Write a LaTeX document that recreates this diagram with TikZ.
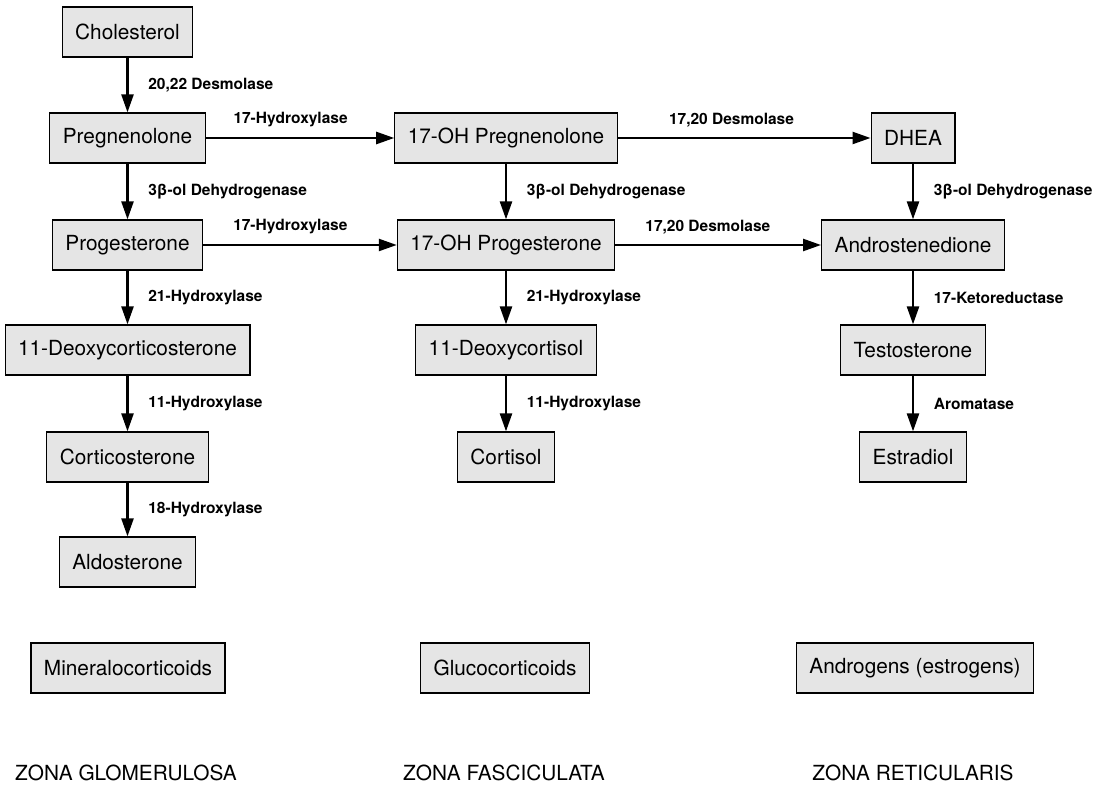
\documentclass[tikz,border=0pt]{standalone}
\usepackage{fontspec}
\setmainfont{TeX Gyre Heros}
\usetikzlibrary{arrows.meta}
\definecolor{boxgray}{gray}{0.9}

\begin{document}
\begin{tikzpicture}[x=0.5pt,y=0.5pt,
    hormone/.style={draw,line width=0.6pt,fill=boxgray,minimum height=25pt,inner xsep=6.5pt,font=\fontsize{10.4}{12}\selectfont},
    zone/.style={font=\fontsize{10.4}{12}\selectfont},
    enz/.style={font=\fontsize{7.75}{9}\selectfont\bfseries},
    conv/.style={line width=1.2pt,-{Triangle[length=9pt,width=6pt]}}]
    \useasboundingbox (0,0) rectangle (1103,-785);

    \node[hormone] (chol) at (127.5,-32) {Cholesterol};
    \node[hormone] (preg) at (127.5,-138) {Pregnenolone};
    \node[hormone] (prog) at (127.5,-245) {Progesterone};
    \node[hormone] (doc) at (127.5,-350) {11-Deoxycorticosterone};
    \node[hormone] (cort) at (127.5,-457) {Corticosterone};
    \node[hormone] (aldo) at (127.5,-562) {Aldosterone};

    \node[hormone] (ohpreg) at (506,-138) {17-OH Pregnenolone};
    \node[hormone] (ohprog) at (506,-245) {17-OH Progesterone};
    \node[hormone] (deoxy) at (506,-350) {11-Deoxycortisol};
    \node[hormone] (cortisol) at (506,-457) {Cortisol};

    \node[hormone] (dhea) at (913,-138) {DHEA};
    \node[hormone] (andro) at (913,-245) {Androstenedione};
    \node[hormone] (testo) at (913,-350) {Testosterone};
    \node[hormone] (estra) at (913,-457) {Estradiol};

    \node[hormone] (mineral) at (128,-668) {Mineralocorticoids};
    \node[hormone] (gluco) at (505,-668) {Glucocorticoids};
    \node[hormone] (androgen) at (915,-668) {Androgens (estrogens)};

    \node[zone] (glom) at (126,-773) {ZONA GLOMERULOSA};
    \node[zone] (fasc) at (504,-773) {ZONA FASCICULATA};
    \node[zone] (retic) at (913,-773) {ZONA RETICULARIS};

    \draw[conv] (chol) -- node[enz,right=6.5pt]{20,22 Desmolase} (preg);
    \draw[conv] (preg) -- node[enz,right=6.5pt]{3β-ol Dehydrogenase} (prog);
    \draw[conv] (prog) -- node[enz,right=6.5pt]{21-Hydroxylase} (doc);
    \draw[conv] (doc) -- node[enz,right=6.5pt]{11-Hydroxylase} (cort);
    \draw[conv] (cort) -- node[enz,right=6.5pt]{18-Hydroxylase} (aldo);

    \draw[conv] (ohpreg) -- node[enz,right=6.5pt]{3β-ol Dehydrogenase} (ohprog);
    \draw[conv] (ohprog) -- node[enz,right=6.5pt]{21-Hydroxylase} (deoxy);
    \draw[conv] (deoxy) -- node[enz,right=6.5pt]{11-Hydroxylase} (cortisol);

    \draw[conv] (dhea) -- node[enz,right=6.5pt]{3β-ol Dehydrogenase} (andro);
    \draw[conv] (andro) -- node[enz,right=6.5pt]{17-Ketoreductase} (testo);
    \draw[conv] (testo) -- node[enz,right=6.5pt]{Aromatase} (estra);

    \draw[conv] (preg) -- node[enz,above=1.5pt,pos=0.45]{17-Hydroxylase} (ohpreg);
    \draw[conv] (prog) -- node[enz,above=1.5pt,pos=0.45]{17-Hydroxylase} (ohprog);
    \draw[conv] (ohpreg) -- node[enz,above=1.5pt,pos=0.45]{17,20 Desmolase} (dhea);
    \draw[conv] (ohprog) -- node[enz,above=1.5pt,pos=0.45]{17,20 Desmolase} (andro);
\end{tikzpicture}
\end{document}
